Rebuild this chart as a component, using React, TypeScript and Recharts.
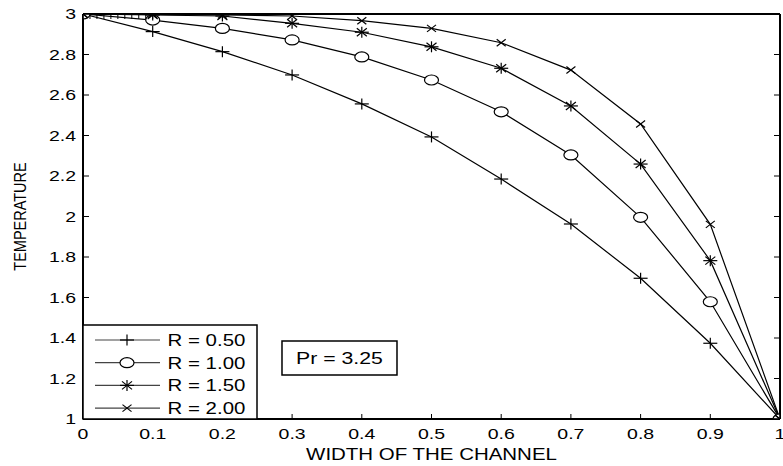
import React from 'react';
import { LineChart, Line, XAxis, YAxis, Legend, ReferenceArea } from 'recharts';

const FONT = '"Liberation Sans", Arial, Helvetica, sans-serif';

// Position across the channel (x) and temperature profiles for each R
const positions = [0, 0.1, 0.2, 0.3, 0.4, 0.5, 0.6, 0.7, 0.8, 0.9, 1];
const tempR050 = [3, 2.913, 2.814, 2.699, 2.556, 2.393, 2.185, 1.963, 1.695, 1.374, 1];
const tempR100 = [3, 2.97, 2.929, 2.872, 2.788, 2.674, 2.517, 2.304, 1.996, 1.579, 1];
const tempR150 = [3, 2.995, 2.99, 2.954, 2.91, 2.838, 2.732, 2.546, 2.259, 1.782, 1];
const tempR200 = [3, 2.998, 2.995, 2.99, 2.967, 2.929, 2.858, 2.723, 2.457, 1.961, 1];

const seriesKeys = ['r050', 'r100', 'r150', 'r200'];
const seriesNames = ['R = 0.50', 'R = 1.00', 'R = 1.50', 'R = 2.00'];
const markerShapes = ['plus', 'circle', 'star', 'cross'];

const xTicks = [0, 0.1, 0.2, 0.3, 0.4, 0.5, 0.6, 0.7, 0.8, 0.9, 1];
const xTickLabels = ['0', '0.1', '0.2', '0.3', '0.4', '0.5', '0.6', '0.7', '0.8', '0.9', '1'];
const yTicks = [1, 1.2, 1.4, 1.6, 1.8, 2, 2.2, 2.4, 2.6, 2.8, 3];
const yTickLabels = ['1', '1.2', '1.4', '1.6', '1.8', '2', '2.2', '2.4', '2.6', '2.8', '3'];

const xTitle = 'WIDTH OF THE CHANNEL';
const yTitle = 'TEMPERATURE';
const prandtlLabel = 'Pr = 3.25';
// Annotation box placement in data units
const prBoxX = [0.2855, 0.4505];
const prBoxY = [1.217, 1.385];

const data = positions.map((x, i) => ({
  x,
  r050: tempR050[i],
  r100: tempR100[i],
  r150: tempR150[i],
  r200: tempR200[i],
}));

type TextProps = {
  x: number;
  y: number;
  anchor: 'start' | 'middle' | 'end';
  size: number;
  sx?: number;
  rotate?: number;
  children: React.ReactNode;
};

// Text widened horizontally to match the wide axes font
function WideText({ x, y, anchor, size, sx = 1.3, rotate, children }: TextProps) {
  const t = rotate
    ? `translate(${x},${y}) rotate(${rotate}) scale(1,${sx})`
    : `translate(${x},${y}) scale(${sx},1)`;
  return (
    <text transform={t} textAnchor={anchor} fontSize={size} fontFamily={FONT} fill="#000" stroke="none">
      {children}
    </text>
  );
}

function Marker({ cx, cy, shape }: { cx: number; cy: number; shape: string }) {
  const s = { stroke: '#000', strokeWidth: 1.2, fill: 'none' };
  if (shape === 'circle') {
    return <ellipse cx={cx} cy={cy} rx={7} ry={5} stroke="#000" strokeWidth={1.2} fill="#fff" />;
  }
  if (shape === 'plus') {
    return (
      <g>
        <line x1={cx - 7} y1={cy} x2={cx + 7} y2={cy} {...s} />
        <line x1={cx} y1={cy - 5.5} x2={cx} y2={cy + 5.5} {...s} />
      </g>
    );
  }
  if (shape === 'star') {
    return (
      <g>
        <line x1={cx - 7} y1={cy} x2={cx + 7} y2={cy} {...s} />
        <line x1={cx} y1={cy - 5.5} x2={cx} y2={cy + 5.5} {...s} />
        <line x1={cx - 5} y1={cy - 4} x2={cx + 5} y2={cy + 4} {...s} />
        <line x1={cx - 5} y1={cy + 4} x2={cx + 5} y2={cy - 4} {...s} />
      </g>
    );
  }
  return (
    <g>
      <line x1={cx - 4.5} y1={cy - 3.5} x2={cx + 4.5} y2={cy + 3.5} {...s} />
      <line x1={cx - 4.5} y1={cy + 3.5} x2={cx + 4.5} y2={cy - 3.5} {...s} />
    </g>
  );
}

const tickStroke = { stroke: '#000', strokeWidth: 1 };

const BottomTick = (p: any) => (
  <g>
    <line x1={p.x} y1={p.y} x2={p.x} y2={p.y - 5} {...tickStroke} />
    <WideText x={p.x} y={p.y + 20} anchor="middle" size={15}>
      {xTickLabels[p.index]}
    </WideText>
  </g>
);

const TopTick = (p: any) => (
  <line x1={p.x} y1={p.y} x2={p.x} y2={p.y + 5} {...tickStroke} />
);

const LeftTick = (p: any) => (
  <g>
    <line x1={p.x} y1={p.y} x2={p.x + 6} y2={p.y} {...tickStroke} />
    <WideText x={p.x - 7} y={p.y + 5.3} anchor="end" size={15}>
      {yTickLabels[p.index]}
    </WideText>
  </g>
);

const RightTick = (p: any) => (
  <line x1={p.x} y1={p.y} x2={p.x - 6} y2={p.y} {...tickStroke} />
);

const renderXTitle = (props: any) => {
  const vb = props.viewBox;
  return (
    <WideText x={vb.x + vb.width / 2} y={vb.y + 41} anchor="middle" size={16} sx={1.28}>
      {xTitle}
    </WideText>
  );
};

const renderYTitle = (props: any) => {
  const vb = props.viewBox;
  return (
    <WideText x={26} y={vb.y + vb.height / 2} anchor="middle" size={14.5} sx={1.15} rotate={-90}>
      {yTitle}
    </WideText>
  );
};

const renderPrLabel = (props: any) => {
  const vb = props.viewBox;
  return (
    <WideText x={vb.x + vb.width / 2} y={vb.y + vb.height / 2 + 5.5} anchor="middle" size={16} sx={1.33}>
      {prandtlLabel}
    </WideText>
  );
};

const renderLegend = () => (
  <svg width={174} height={94} style={{ display: 'block', overflow: 'visible' }}>
    <rect x={0} y={0} width={174} height={94} fill="#fff" stroke="#000" strokeWidth={1.5} />
    {seriesNames.map((name, i) => {
      const cy = 15 + i * 22.7;
      return (
        <g key={name}>
          <line x1={12} y1={cy} x2={77} y2={cy} stroke="#444" strokeWidth={1.2} />
          <Marker cx={44} cy={cy} shape={markerShapes[i]} />
          <WideText x={84.5} y={cy + 6} anchor="start" size={16.5} sx={1.24}>
            {name}
          </WideText>
        </g>
      );
    })}
  </svg>
);

const axisLine = { stroke: '#000', strokeWidth: 2 };

export default function App() {
  return (
    <div style={{ position: 'absolute', left: 0, top: 0, background: '#fff' }}>
      <LineChart width={783} height={466} data={data} margin={{ top: 0, right: 0, bottom: 0, left: 0 }}>
        <XAxis
          dataKey="x"
          type="number"
          domain={[0, 1]}
          ticks={xTicks}
          interval={0}
          height={47}
          axisLine={axisLine}
          tickLine={false}
          tickSize={0}
          tickMargin={0}
          tick={BottomTick}
          allowDataOverflow
          label={{ value: xTitle, content: renderXTitle }}
        />
        <XAxis
          xAxisId="top"
          orientation="top"
          type="number"
          domain={[0, 1]}
          ticks={xTicks}
          interval={0}
          height={14}
          axisLine={axisLine}
          tickLine={false}
          tickSize={0}
          tickMargin={0}
          tick={TopTick}
          allowDataOverflow
        />
        <YAxis
          type="number"
          domain={[1, 3]}
          ticks={yTicks}
          interval={0}
          width={83}
          axisLine={axisLine}
          tickLine={false}
          tickSize={0}
          tickMargin={0}
          tick={LeftTick}
          allowDataOverflow
          label={{ value: yTitle, content: renderYTitle }}
        />
        <YAxis
          yAxisId="right"
          orientation="right"
          type="number"
          domain={[1, 3]}
          ticks={yTicks}
          interval={0}
          width={3}
          axisLine={axisLine}
          tickLine={false}
          tickSize={0}
          tickMargin={0}
          tick={RightTick}
          allowDataOverflow
        />
        {seriesKeys.map((key, i) => (
          <Line
            key={key}
            dataKey={key}
            name={seriesNames[i]}
            type="linear"
            stroke="#000"
            strokeWidth={1.2}
            isAnimationActive={false}
            dot={(p: any) => (
              <Marker key={`${key}-${p.index}`} cx={p.cx} cy={p.cy} shape={markerShapes[i]} />
            )}
            activeDot={false}
          />
        ))}
        <ReferenceArea
          x1={prBoxX[0]}
          x2={prBoxX[1]}
          y1={prBoxY[0]}
          y2={prBoxY[1]}
          fill="#fff"
          fillOpacity={1}
          stroke="#000"
          strokeWidth={1.5}
          ifOverflow="visible"
          label={{ value: prandtlLabel, content: renderPrLabel }}
        />
        <Legend
          layout="vertical"
          align="center"
          verticalAlign="middle"
          content={renderLegend}
          wrapperStyle={{ position: 'absolute', left: 83, top: 325, width: 174, height: 94 }}
        />
      </LineChart>
    </div>
  );
}
